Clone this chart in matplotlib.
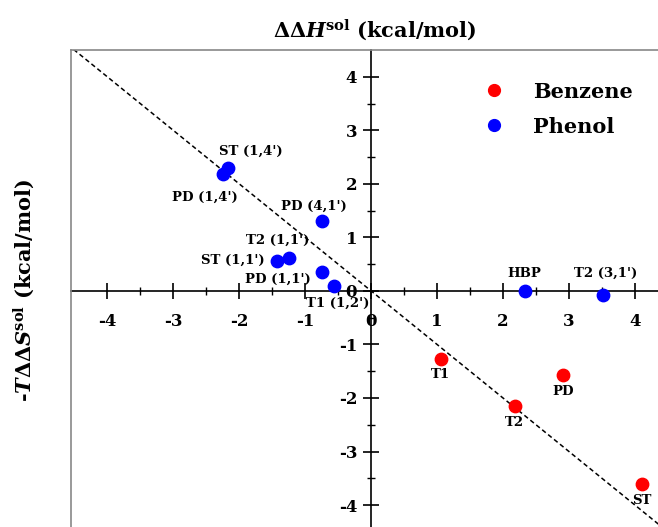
import matplotlib
matplotlib.use("Agg")
import matplotlib.pyplot as plt
import numpy as np
from matplotlib.lines import Line2D

plt.rcParams['font.family'] = 'DejaVu Serif'
plt.rcParams['font.weight'] = 'bold'
plt.rcParams['mathtext.fontset'] = 'dejavuserif'
plt.rcParams['axes.unicode_minus'] = False

# benzene (red)
benz_names = ['T1', 'PD', 'T2', 'ST']
benz_dh = [1.06, 2.91, 2.18, 4.11]
benz_tds = [-1.28, -1.57, -2.15, -3.61]
benz_lab = [(1.05, -1.57), (2.91, -1.87), (2.18, -2.45), (4.11, -3.91)]

# phenol (blue)
phen_names = ["ST (1,4')", "PD (1,4')", "PD (4,1')", "T2 (1,1')", "ST (1,1')",
              "PD (1,1')", "T1 (1,2')", "HBP", "T2 (3,1')"]
phen_dh = [-2.17, -2.24, -0.75, -1.25, -1.43, -0.74, -0.57, 2.33, 3.52]
phen_tds = [2.30, 2.19, 1.31, 0.61, 0.55, 0.35, 0.09, 0.0, -0.07]
phen_lab = [(-1.83, 2.60), (-2.52, 1.74), (-0.86, 1.59), (-1.42, 0.95), (-2.09, 0.58),
            (-1.42, 0.22), (-0.50, -0.23), (2.32, 0.32), (3.55, 0.32)]

ticks = [-4, -3, -2, -1, 0, 1, 2, 3, 4]

fig = plt.figure(figsize=(6.58, 5.27), dpi=100)
ax = fig.add_axes([71/658, 0, 587/658, 477/527])
ax.set_xlim(-4.55, 4.35)
ax.set_ylim(-4.41, 4.5)

# centred axes
ax.spines['left'].set_position(('data', 0))
ax.spines['bottom'].set_position(('data', 0))
ax.spines['right'].set_visible(False)
ax.spines['top'].set_visible(False)
for s in ['left', 'bottom']:
    ax.spines[s].set_linewidth(1.2)
ax.set_xticks(ticks)
ax.set_yticks(ticks)
ax.set_xticks(np.arange(-3.5, 4.5, 1.0), minor=True)
ax.set_yticks(np.arange(-3.5, 4.5, 1.0), minor=True)
ax.tick_params(which='major', direction='inout', length=12, width=1.2, labelsize=12, pad=4)
ax.tick_params(axis='x', which='major', pad=10)
ax.tick_params(which='minor', direction='inout', length=6, width=1.0)
for lab in ax.get_xticklabels() + ax.get_yticklabels():
    lab.set_fontweight('bold')

# frame (top/left)
fig.add_artist(Line2D([71/658, 71/658], [0, 1 - 50/527], transform=fig.transFigure,
                      color='#888888', lw=1.2))
fig.add_artist(Line2D([71/658, 1], [1 - 50/527, 1 - 50/527], transform=fig.transFigure,
                      color='#888888', lw=1.2))

# y = -x guide
xx = np.array([-4.6, 4.6])
ax.plot(xx, -xx, ls=(0, (3, 2)), color='black', lw=1.1, zorder=2)

ax.scatter(benz_dh, benz_tds, s=80, color='#ff0000', zorder=3, clip_on=False)
ax.scatter(phen_dh, phen_tds, s=80, color='#0000ff', zorder=3, clip_on=False)

for name, (lx, ly) in zip(benz_names, benz_lab):
    ax.text(lx, ly, name, ha='center', va='center', fontsize=9.5, fontweight='bold')
for name, (lx, ly) in zip(phen_names, phen_lab):
    ax.text(lx, ly, name, ha='center', va='center', fontsize=9.5, fontweight='bold')

# legend
fig.add_artist(Line2D([494/658], [1 - 90/527], transform=fig.transFigure, marker='o',
                      ms=8.5, color='#ff0000', ls='none'))
fig.add_artist(Line2D([494/658], [1 - 125/527], transform=fig.transFigure, marker='o',
                      ms=8.5, color='#0000ff', ls='none'))
fig.text(533/658, 1 - 92/527, 'Benzene', ha='left', va='center', fontsize=15, fontweight='bold')
fig.text(533/658, 1 - 127/527, 'Phenol', ha='left', va='center', fontsize=15, fontweight='bold')

fig.text(375/658, 1 - 30/527, r'$\mathbf{\Delta\Delta}\mathbfit{H}^{\mathbf{sol}}$ (kcal/mol)',
         ha='center', va='center', fontsize=15, fontweight='bold')
fig.text(24/658, 1 - 290/527, r'-$\mathbfit{T}\mathbf{\Delta\Delta}\mathbfit{S}^{\mathbf{sol}}$ (kcal/mol)',
         ha='center', va='center', fontsize=15, fontweight='bold', rotation=90)

fig.savefig('out.png', dpi=100)
